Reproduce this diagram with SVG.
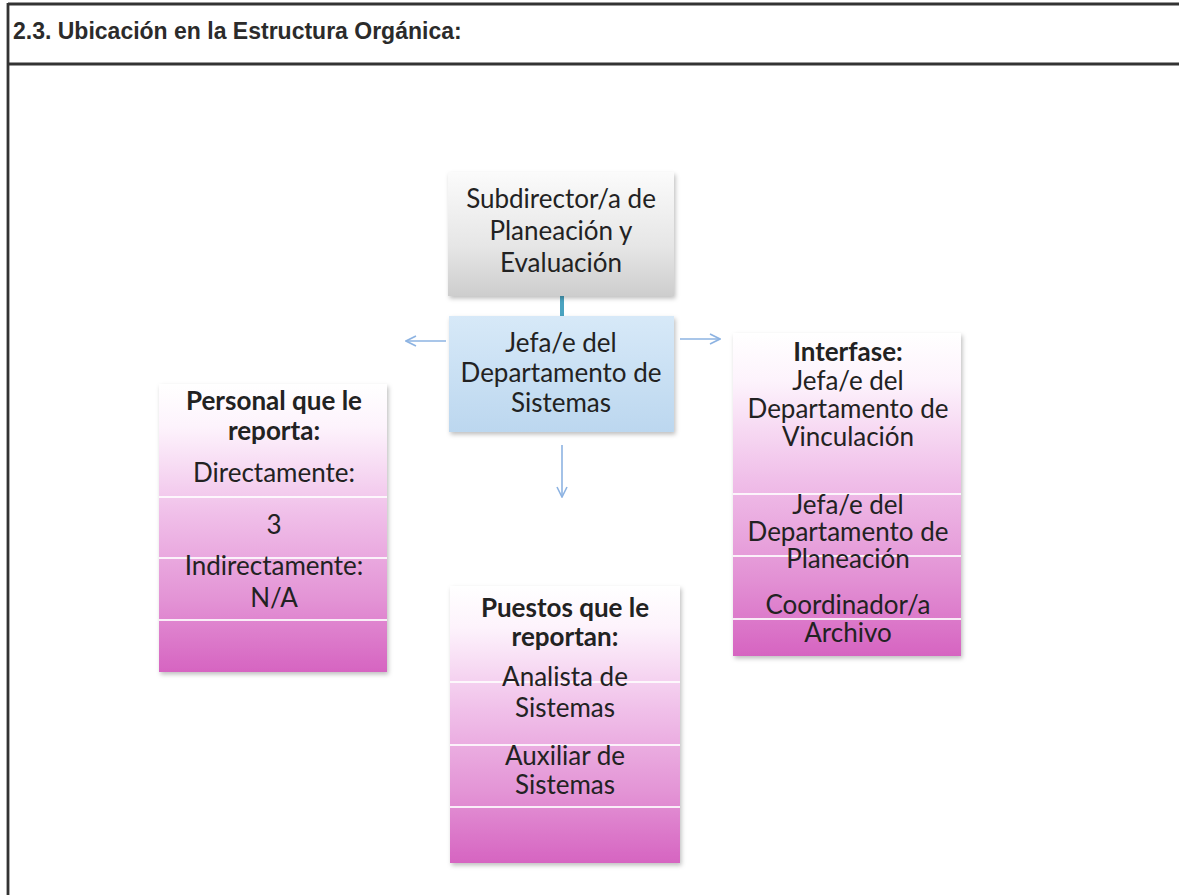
<svg xmlns="http://www.w3.org/2000/svg" width="1179" height="895" viewBox="0 0 1179 895">
<defs>
<style>
.frame{stroke:#333;stroke-width:2.8;fill:none}
.hdr{font-family:"Liberation Sans",Arial,sans-serif;font-weight:bold;font-size:23px;fill:#2b2b2b}
.t{font-family:Lato,"Open Sans",sans-serif;font-size:26px;fill:#222;text-anchor:middle}
.b{font-weight:bold}
.sep{stroke:#fff;stroke-width:2;opacity:0.85}
.arr{stroke:#8db3e2;stroke-width:1.6;fill:none}
</style>
<linearGradient id="gGray" x1="0" y1="0" x2="0" y2="1">
<stop offset="0" stop-color="#fbfbfb"/><stop offset="0.6" stop-color="#e6e6e6"/><stop offset="1" stop-color="#cdcdcd"/>
</linearGradient>
<linearGradient id="gBlue" x1="0" y1="0" x2="0" y2="1">
<stop offset="0" stop-color="#d7e9f8"/><stop offset="1" stop-color="#bcd7ef"/>
</linearGradient>
<linearGradient id="gPink" x1="0" y1="0" x2="0" y2="1">
<stop offset="0" stop-color="#ffffff"/><stop offset="0.15" stop-color="#fdf3fc"/><stop offset="0.45" stop-color="#f0bfe9"/><stop offset="0.75" stop-color="#e393d5"/><stop offset="1" stop-color="#d664c1"/>
</linearGradient>
<filter id="sh" x="-10%" y="-10%" width="120%" height="120%">
<feDropShadow dx="1.5" dy="2.5" stdDeviation="2" flood-color="#000" flood-opacity="0.25"/>
</filter>
<marker id="ah" viewBox="0 0 12 12" refX="11" refY="6" markerWidth="12" markerHeight="12" markerUnits="userSpaceOnUse" orient="auto">
<path d="M1,1 L11,6 L1,11" fill="none" stroke="#8db3e2" stroke-width="1.6"/>
</marker>
</defs>
<rect width="1179" height="895" fill="#fff"/>
<g id="frame">
<line class="frame" x1="8" y1="4" x2="1179" y2="4"/>
<line class="frame" x1="8" y1="64" x2="1179" y2="64"/>
<line class="frame" x1="8" y1="3" x2="8" y2="895"/>
<text class="hdr" x="13" y="39">2.3. Ubicación en la Estructura Orgánica:</text>
</g>
<g id="connectors">
<line x1="562" y1="296" x2="562" y2="316" stroke="#4aa3c0" stroke-width="4"/>
<line class="arr" x1="446" y1="341" x2="406" y2="341" marker-end="url(#ah)"/>
<line class="arr" x1="680" y1="339" x2="720" y2="339" marker-end="url(#ah)"/>
<line class="arr" x1="562" y1="445" x2="562" y2="497" marker-end="url(#ah)"/>
</g>
<g id="subdirector">
<rect x="448" y="172" width="226" height="124" fill="url(#gGray)" filter="url(#sh)"/>
<text class="t" x="561" y="208">Subdirector/a de</text>
<text class="t" x="561" y="240">Planeación y</text>
<text class="t" x="561" y="272">Evaluación</text>
</g>
<g id="jefe-sistemas">
<rect x="449" y="316" width="225" height="116" fill="url(#gBlue)" filter="url(#sh)"/>
<text class="t" x="561" y="352">Jefa/e del</text>
<text class="t" x="561" y="382">Departamento de</text>
<text class="t" x="561" y="412">Sistemas</text>
</g>
<g id="personal">
<rect x="159" y="384" width="228" height="288" fill="url(#gPink)" filter="url(#sh)"/>
<line class="sep" x1="159" y1="497" x2="387" y2="497"/>
<line class="sep" x1="159" y1="558" x2="387" y2="558"/>
<line class="sep" x1="159" y1="620" x2="387" y2="620"/>
<text class="t b" x="274" y="410">Personal que le</text>
<text class="t b" x="274" y="440">reporta:</text>
<text class="t" x="274" y="482">Directamente:</text>
<text class="t" x="274" y="534">3</text>
<text class="t" x="274" y="575">Indirectamente:</text>
<text class="t" x="274" y="607">N/A</text>
</g>
<g id="interfase">
<rect x="733" y="333" width="228" height="323" fill="url(#gPink)" filter="url(#sh)"/>
<line class="sep" x1="733" y1="494" x2="961" y2="494"/>
<line class="sep" x1="733" y1="556" x2="961" y2="556"/>
<line class="sep" x1="733" y1="619" x2="961" y2="619"/>
<text class="t b" x="848" y="361">Interfase:</text>
<text class="t" x="848" y="390">Jefa/e del</text>
<text class="t" x="848" y="418">Departamento de</text>
<text class="t" x="848" y="446">Vinculación</text>
<text class="t" x="848" y="514">Jefa/e del</text>
<text class="t" x="848" y="541">Departamento de</text>
<text class="t" x="848" y="568">Planeación</text>
<text class="t" x="848" y="614">Coordinador/a</text>
<text class="t" x="848" y="642">Archivo</text>
</g>
<g id="puestos">
<rect x="450" y="586" width="230" height="277" fill="url(#gPink)" filter="url(#sh)"/>
<line class="sep" x1="450" y1="682" x2="680" y2="682"/>
<line class="sep" x1="450" y1="745" x2="680" y2="745"/>
<line class="sep" x1="450" y1="807" x2="680" y2="807"/>
<text class="t b" x="565" y="617">Puestos que le</text>
<text class="t b" x="565" y="646">reportan:</text>
<text class="t" x="565" y="686">Analista de</text>
<text class="t" x="565" y="717">Sistemas</text>
<text class="t" x="565" y="765">Auxiliar de</text>
<text class="t" x="565" y="794">Sistemas</text>
</g>
</svg>
